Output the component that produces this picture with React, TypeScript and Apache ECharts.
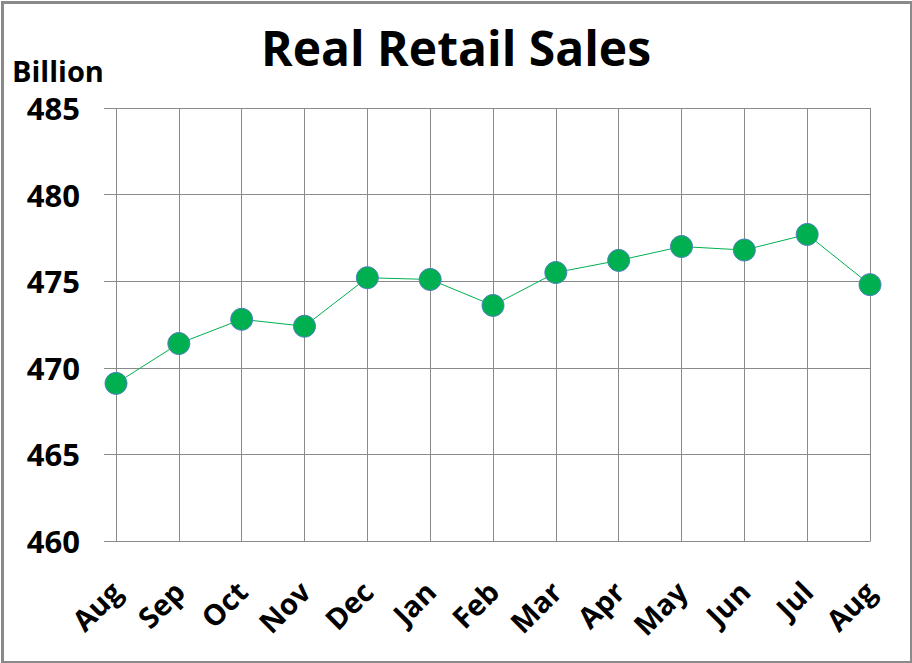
import React, { useEffect, useRef } from "react";
import * as echarts from "echarts";

const categories = ["Aug", "Sep", "Oct", "Nov", "Dec", "Jan", "Feb", "Mar", "Apr", "May", "Jun", "Jul", "Aug"];
const salesValues = [469.1, 471.4, 472.8, 472.4, 475.2, 475.1, 473.6, 475.5, 476.2, 477.0, 476.8, 477.7, 474.8];
const yMin = 460;
const yMax = 485;
const yStep = 5;

const FONT = "'Open Sans', 'Noto Sans', sans-serif";
const GRAY = "#8a8a8a";

export default function App() {
  const ref = useRef<HTMLDivElement>(null);
  useEffect(() => {
    if (!ref.current) return;
    const chart = echarts.init(ref.current, null, { renderer: "svg" });
    chart.setOption({
      animation: false,
      backgroundColor: "#ffffff",
      title: {
        text: "Real Retail Sales",
        left: "center",
        top: 18,
        textStyle: { fontFamily: FONT, fontWeight: "bold", fontSize: 48, color: "#000" },
      },
      graphic: [
        {
          type: "rect",
          left: 0,
          top: 0,
          shape: { x: 1.5, y: 1.5, width: 909, height: 660 },
          style: { fill: "none", stroke: GRAY, lineWidth: 3 },
          silent: true,
        },
        {
          type: "text",
          left: 12,
          top: 56,
          style: { text: "Billion", fontFamily: FONT, fontWeight: "bold", fontSize: 29, fill: "#000" },
        },
      ],
      grid: { left: 116, right: 42, top: 108, bottom: 122, containLabel: false },
      xAxis: {
        type: "category",
        data: categories,
        boundaryGap: false,
        axisLine: { show: true, lineStyle: { color: GRAY, width: 1 } },
        axisTick: { show: false },
        splitLine: { show: true, lineStyle: { color: GRAY, width: 1 } },
        axisLabel: {
          interval: 0,
          rotate: 45,
          margin: 45,
          fontFamily: FONT,
          fontWeight: "bold",
          fontSize: 29,
          color: "#000",
        },
      },
      yAxis: {
        type: "value",
        min: yMin,
        max: yMax,
        interval: yStep,
        axisLine: { show: false },
        axisTick: { show: true, length: 12, lineStyle: { color: GRAY, width: 1 } },
        splitLine: { show: true, lineStyle: { color: GRAY, width: 1 } },
        axisLabel: {
          margin: 36,
          fontFamily: FONT,
          fontWeight: "bold",
          fontSize: 31,
          color: "#000",
        },
      },
      series: [
        {
          type: "line",
          data: salesValues,
          symbol: "circle",
          symbolSize: 22,
          lineStyle: { color: "#00B050", width: 1 },
          itemStyle: { color: "#00B050", borderColor: "#4F7FC0", borderWidth: 1 },
        },
      ],
    });
    return () => chart.dispose();
  }, []);
  return <div ref={ref} style={{ position: "fixed", left: 0, top: 0, width: 912, height: 663 }} />;
}
